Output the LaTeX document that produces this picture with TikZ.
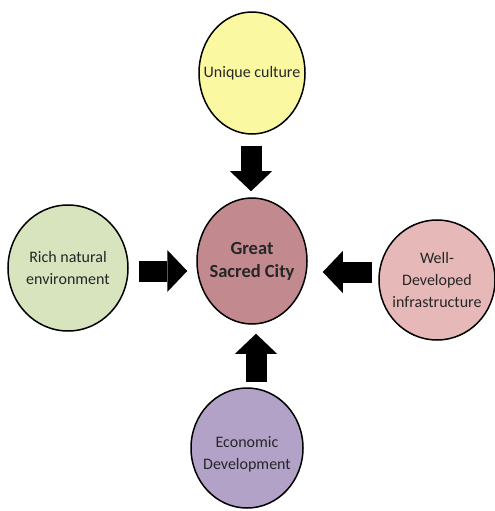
\documentclass[tikz,border=0pt]{standalone}
\usepackage{fontspec}
\setmainfont{Carlito}
\usetikzlibrary{shapes.geometric,arrows.meta}
\definecolor{cyellow}{HTML}{FAF8A0}
\definecolor{crose}{HTML}{C28A8E}
\definecolor{cgreen}{HTML}{D7E4BD}
\definecolor{cpink}{HTML}{E6B9B8}
\definecolor{cpurple}{HTML}{B3A2C7}
\definecolor{ctext}{HTML}{262626}
\tikzset{
  bubble/.style={ellipse, draw=black, line width=1.5bp, inner sep=0pt},
  txt/.style={align=center, text=ctext, font=\fontsize{16bp}{22bp}\selectfont},
  bigtxt/.style={align=center, text=ctext, font=\fontsize{18.5bp}{23bp}\selectfont\bfseries},
  bigarrow/.style={draw=black, line width=21bp,
    -{Triangle[length=20bp 0, width=42bp 0, line width=0pt]}}
}
\begin{document}
\begin{tikzpicture}[x=1bp,y=-1bp]
\useasboundingbox (0,0) rectangle (495,511);
\node[bubble, fill=cyellow, minimum width=106bp, minimum height=122bp,
  label={[txt]center:Unique culture}] (top) at (252,73) {};
\node[bubble, fill=crose, minimum width=110bp, minimum height=126bp,
  label={[bigtxt]center:{Great\\Sacred City}}] (center) at (252,261) {};
\node[bubble, fill=cgreen, minimum width=120bp, minimum height=126bp,
  label={[txt]center:{Rich natural\\environment}}] (left) at (68,268) {};
\node[bubble, fill=cpink, minimum width=116bp, minimum height=120bp,
  label={[txt]center:{Well-\\Developed\\infrastructure}}] (right) at (437,280) {};
\node[bubble, fill=cpurple, minimum width=112bp, minimum height=120bp,
  label={[txt,yshift=-6bp]center:{Economic\\Development}}] (bottom) at (247,448) {};
\draw[bigarrow] ([shift={(-1,11)}]top.south) -- ([shift={(-1,-6)}]center.north -| top.south);
\draw[bigarrow] ([shift={(10,3)}]left.east) -- ([shift={(-9,3)}]left.east -| center.west);
\draw[bigarrow] ([shift={(-6,-8)}]right.west) -- ([shift={(15,-8)}]right.west -| center.east);
\draw[bigarrow] ([shift={(9,-5)}]bottom.north) -- ([shift={(9,9)}]center.south -| bottom.north);
\end{tikzpicture}
\end{document}
